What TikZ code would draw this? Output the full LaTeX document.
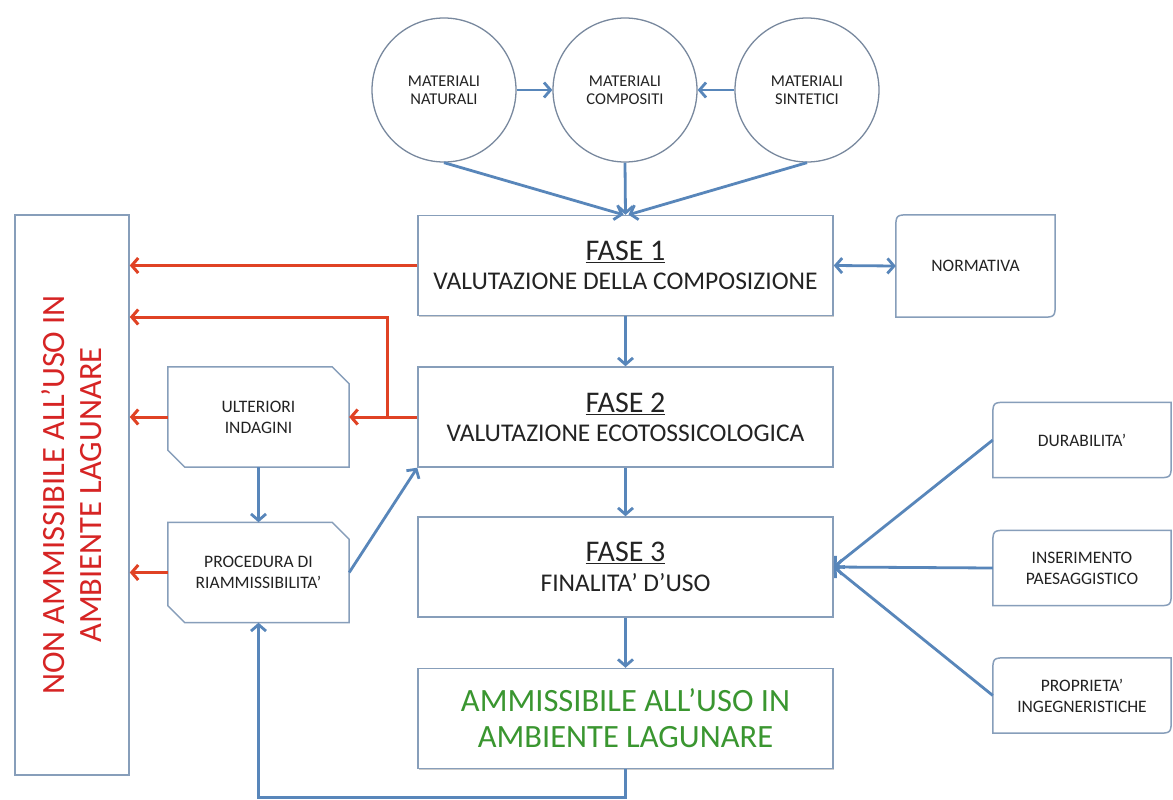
\documentclass[tikz,border=0pt]{standalone}
\usepackage{fontspec}
\setmainfont{Carlito}
\usetikzlibrary{arrows.meta,shadows}
\definecolor{arrowblue}{RGB}{88,134,186}
\definecolor{boxline}{RGB}{135,158,186}
\definecolor{redarr}{RGB}{224,66,36}
\definecolor{greentxt}{RGB}{58,150,48}
\definecolor{redtxt}{RGB}{214,36,36}
\definecolor{circline}{RGB}{120,136,158}
\definecolor{txtgray}{RGB}{35,35,35}
\newcommand\snipbox[1]{\draw[boxborder] (#1.north west) -- ([xshift=-17pt]#1.north east) -- ([yshift=-17pt]#1.north east) -- (#1.south east) -- ([xshift=17pt]#1.south west) -- ([yshift=17pt]#1.south west) -- cycle;}
\newcommand\rdbox[1]{\draw[boxborder] (#1.south west) -- ([yshift=-15pt]#1.north west) .. controls (#1.north west) .. ([xshift=15pt]#1.north west) -- (#1.north east) -- ([yshift=15pt]#1.south east) .. controls (#1.south east) .. ([xshift=-15pt]#1.south east) -- cycle;}
\begin{document}
\begin{tikzpicture}[x=1pt,y=-1pt,
  boxborder/.style={draw=boxline,line width=1.5pt},
  phase/.style={rectangle,draw=boxline,line width=1.5pt,fill=white,
    minimum width=415pt,minimum height=100pt,align=center,text=txtgray,
    drop shadow={shadow xshift=1.4pt,shadow yshift=-1.4pt,opacity=0.4,fill=gray}},
  mat/.style={circle,draw=circline,line width=1.3pt,minimum size=144pt,
    align=center,text=txtgray,font=\fontsize{16.5}{18}\selectfont},
  small/.style={rectangle,minimum width=181pt,minimum height=100pt,align=center,
    text=txtgray,font=\fontsize{17.5}{21}\selectfont},
  side/.style={rectangle,minimum width=178pt,minimum height=75pt,align=center,
    text=txtgray,font=\fontsize{17.5}{21}\selectfont},
  blue/.style={draw=arrowblue,line width=2.8pt,-{Straight Barb[length=6.5pt,width=15pt]}},
  blueline/.style={draw=arrowblue,line width=2.8pt},
  red/.style={draw=redarr,line width=3pt,-{Straight Barb[length=6.5pt,width=15pt]}}]
\useasboundingbox[fill=white] (0,0) rectangle (1173,800);

% materials
\node[mat] (nat) at (444,90) {MATERIALI\\NATURALI};
\node[mat] (comp) at (625,90) {MATERIALI\\COMPOSITI};
\node[mat] (sint) at (807,90) {MATERIALI\\SINTETICI};

% phases
\node[phase] (f1) at (625.5,265.5) {{\fontsize{30}{30}\selectfont\underline{FASE 1}}\\[9pt]{\fontsize{25.5}{26}\selectfont VALUTAZIONE DELLA COMPOSIZIONE}};
\node[phase] (f2) at (625.5,417) {{\fontsize{30}{30}\selectfont\underline{FASE 2}}\\[9pt]{\fontsize{25.5}{26}\selectfont VALUTAZIONE ECOTOSSICOLOGICA}};
\node[phase] (f3) at (625.5,567) {{\fontsize{30}{30}\selectfont\underline{FASE 3}}\\[9pt]{\fontsize{25.5}{26}\selectfont FINALITA’ D’USO}};
\node[phase,text=greentxt,font=\fontsize{32.5}{36}\selectfont] (amm) at (625.5,718.5) {AMMISSIBILE ALL’USO IN\\AMBIENTE LAGUNARE};

% non ammissibile
\node[rectangle,draw=boxline,line width=1.5pt,minimum width=114pt,minimum height=560pt,
  drop shadow={shadow xshift=1.4pt,shadow yshift=-1.4pt,opacity=0.4,fill=gray},fill=white] (non) at (72,495) {};
\node[rotate=90,text=redtxt,align=center,font=\fontsize{32.5}{37}\selectfont] (nontxt) at (non.center) {NON AMMISSIBILE ALL’USO IN\\AMBIENTE LAGUNARE};

% snipped boxes
\node[small] (ult) at (258.5,417) {ULTERIORI\\INDAGINI};
\node[small] (proc) at (258.5,572.5) {PROCEDURA DI\\RIAMMISSIBILITA’};
\snipbox{ult}
\snipbox{proc}

% side boxes
\node[rectangle,minimum width=159pt,minimum height=102pt,text=txtgray,font=\fontsize{17.5}{21}\selectfont] (norm) at (975.5,266) {NORMATIVA};
\node[side] (dur) at (1082,440) {DURABILITA’};
\node[side] (ins) at (1082,568) {INSERIMENTO\\PAESAGGISTICO};
\node[side] (prop) at (1082,695.5) {PROPRIETA’\\INGEGNERISTICHE};
\rdbox{norm}
\rdbox{dur}
\rdbox{ins}
\rdbox{prop}

% blue connectors
\draw[blue] (nat.east) -- (comp.west);
\draw[blue] (sint.west) -- (comp.east);
\draw[blue] (nat.south) -- ([xshift=-2pt]f1.north);
\draw[blue] (comp.south) -- (f1.north);
\draw[blue] (sint.south) -- ([xshift=3pt]f1.north);
\draw[blueline,{Straight Barb[length=6.5pt,width=15pt]}-{Straight Barb[length=6.5pt,width=15pt]}] (f1.east) -- (norm.west);
\draw[blue] (f1.south) -- (f2.north);
\draw[blue] (f2.south) -- (f3.north);
\draw[blue] (f3.south) -- (amm.north);
\draw[blue] (ult.south) -- (proc.north);
\draw[blue] (proc.east) -- (f2.south west);
\draw[blue] (amm.south) -- ++(0,28) -| (proc.south);
\draw[blue] (dur.west) -- (f3.east);
\draw[blue] (ins.west) -- (f3.east);
\draw[blue] (prop.west) -- (f3.east);

% red connectors
\coordinate (j) at (387,417);
\coordinate (rb) at (387,317);
\draw[red] (f1.west) -- (f1.west -| non.east);
\draw[red] (f2.west) -- (ult.east);
\draw[red] (j) -- (rb) -- (rb -| non.east);
\draw[red] (ult.west) -- (ult.west -| non.east);
\draw[red] (proc.west) -- (proc.west -| non.east);
\end{tikzpicture}
\end{document}
